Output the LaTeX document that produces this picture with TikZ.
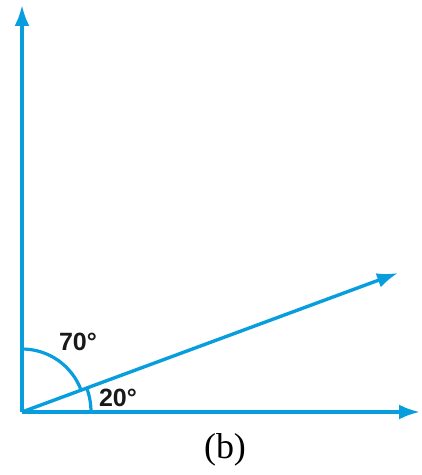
\documentclass[tikz,border=0pt]{standalone}
\usepackage{fontspec}
\setmainfont{Liberation Serif}
\newfontfamily\labelfont{Liberation Sans}
\usetikzlibrary{arrows.meta}
\definecolor{raycol}{RGB}{8,158,222}
\tikzset{
  ray/.style={draw=raycol, line width=3.4pt, -{Latex[length=21pt,width=15pt]}},
  anglearc/.style={draw=raycol, line width=3.2pt},
  anglelabel/.style={font=\labelfont\bfseries\fontsize{25}{30}\selectfont, inner sep=0pt, text=black!90},
}
\begin{document}
\begin{tikzpicture}[x=1pt,y=1pt]
\useasboundingbox (0,0) rectangle (422,475);
\coordinate (O) at (22,63);
\coordinate (up) at (22,470);
\coordinate (right) at (420,63);
\coordinate (obl) at (398,202);
\draw[ray] (O) -- (up);
\draw[ray] (O) -- (right);
\draw[ray] (O) -- (obl);
\draw[anglearc] ([shift={(90:63)}]O) arc[start angle=90, end angle=20, radius=63];
\draw[anglearc] ([shift={(0:69)}]O) arc[start angle=0, end angle=20, radius=69];
\node[anglelabel] (l70) at (78,133) {70°};
\node[anglelabel] (l20) at (118,77) {20°};
\node[font=\fontsize{36}{40}\selectfont, inner sep=0pt] (cap) at (225,25) {(b)};
\end{tikzpicture}
\end{document}
